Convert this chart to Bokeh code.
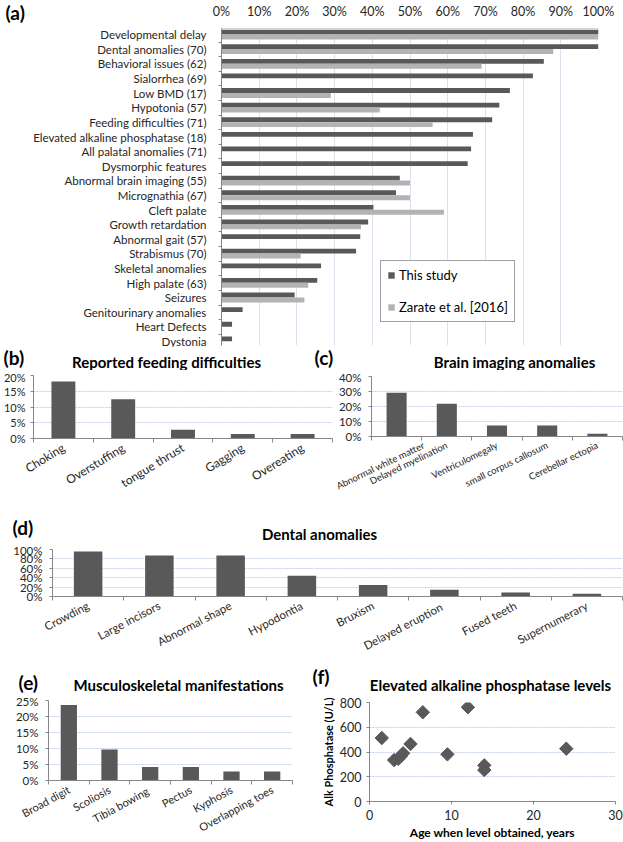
import math
from bokeh.plotting import figure
from bokeh.models import (Range1d, FixedTicker, PrintfTickFormatter, Label, Legend,
                          LegendItem, ColumnDataSource)
from bokeh.layouts import column, row
from bokeh.transform import dodge
from bokeh.embed import file_html
from bokeh.resources import INLINE

FONT = "Lato"
DARK = "#595959"
LIGHT = "#b3b3b3"
AXIS = "#868686"
GRID = "#c3d1ea"
TXT = "#262626"

# ---------------- data ----------------
a_categories = ["Developmental delay", "Dental anomalies (70)", "Behavioral issues (62)",
                "Sialorrhea (69)", "Low BMD (17)", "Hypotonia (57)", "Feeding difficulties (71)",
                "Elevated alkaline phosphatase (18)", "All palatal anomalies (71)",
                "Dysmorphic features", "Abnormal brain imaging (55)", "Micrognathia (67)",
                "Cleft palate", "Growth retardation", "Abnormal gait (57)", "Strabismus (70)",
                "Skeletal anomalies", "High palate (63)", "Seizures", "Genitourinary anomalies",
                "Heart Defects", "Dystonia"]
a_this_study = [100, 100, 85.5, 82.6, 76.5, 73.7, 71.8, 66.7, 66.2, 65.3, 47.3, 46.3,
                40.3, 38.9, 36.8, 35.7, 26.4, 25.4, 19.4, 5.6, 2.8, 2.8]
a_zarate = [100, 88, 69, None, 29, 42, 56, None, None, None, 50, 50,
            59, 37, None, 21, None, 23, 22, None, None, None]
a_ticks = [0, 10, 20, 30, 40, 50, 60, 70, 80, 90, 100]

b_categories = ["Choking", "Overstuffing", "tongue thrust", "Gagging", "Overeating"]
b_values = [18.1, 12.5, 2.8, 1.4, 1.4]
b_ticks = [0, 5, 10, 15, 20]

c_categories = ["Abnormal white matter", "Delayed myelination", "Ventriculomegaly",
                "small corpus callosum", "Cerebellar ectopia"]
c_values = [29.1, 21.8, 7.3, 7.3, 1.8]
c_ticks = [0, 10, 20, 30, 40]

d_categories = ["Crowding", "Large incisors", "Abnormal shape", "Hypodontia", "Bruxism",
                "Delayed  eruption", "Fused teeth", "Supernumerary"]
d_values = [95.7, 87.1, 87.1, 44.3, 24.3, 14.3, 8.6, 5.7]
d_ticks = [0, 20, 40, 60, 80, 100]

e_categories = ["Broad digit", "Scoliosis", "Tibia  bowing", "Pectus", "Kyphosis",
                "Overlapping toes"]
e_values = [23.6, 9.7, 4.2, 4.2, 2.8, 2.8]
e_ticks = [0, 5, 10, 15, 20, 25]

f_age = [1.5, 3.0, 3.5, 3.8, 4.1, 5.0, 6.5, 9.5, 12.0, 14.0, 14.0, 24.0]
f_alp = [513, 335, 345, 365, 390, 465, 721, 381, 762, 292, 254, 427]
f_xticks = [0, 10, 20, 30]
f_yticks = [0, 200, 400, 600, 800]


def base_fig(w, h, left, right, top, bottom, **kw):
    p = figure(width=w, height=h, output_backend="svg", toolbar_location=None,
               min_border_left=left, min_border_right=right, min_border_top=top,
               min_border_bottom=bottom, **kw)
    p.outline_line_color = None
    p.background_fill_color = "white"
    p.border_fill_color = "white"
    p.frame_align = False
    return p


def header(w, h, texts):
    """a strip whose frame fills its canvas; texts = (x, y, text, size, align) in strip pixels"""
    p = figure(width=w, height=h, output_backend="svg", toolbar_location=None,
               x_range=Range1d(0, w), y_range=Range1d(h, 0),
               x_axis_type=None, y_axis_type=None, min_border=0)
    p.outline_line_color = None
    p.grid.grid_line_color = None
    p.frame_align = False
    for (x, y, t, size, align) in texts:
        p.add_layout(Label(x=x, y=y, text=t, text_font=FONT, text_font_size=size,
                           text_font_style="bold", text_align=align,
                           text_baseline="middle", text_color="black"))
    return p


def style_value_axis(ax, ticks, size="11.5px", standoff=7):
    ax.ticker = FixedTicker(ticks=ticks)
    ax.formatter = PrintfTickFormatter(format="%d%%")
    ax.axis_line_color = AXIS
    ax.major_tick_line_color = AXIS
    ax.major_tick_out = 3
    ax.major_tick_in = 0
    ax.minor_tick_line_color = None
    ax.major_label_text_font = FONT
    ax.major_label_text_font_size = size
    ax.major_label_text_color = TXT
    ax.major_label_standoff = standoff


def style_cat_axis(ax, cats, size, angle, standoff=4):
    n = len(cats)
    ax.ticker = FixedTicker(ticks=list(range(n)),
                            minor_ticks=[i - 0.5 for i in range(n + 1)])
    ax.major_label_overrides = {i: c for i, c in enumerate(cats)}
    ax.axis_line_color = AXIS
    ax.major_tick_line_color = None
    ax.major_tick_out = 0
    ax.major_tick_in = 0
    ax.minor_tick_line_color = AXIS
    ax.minor_tick_out = 4
    ax.minor_tick_in = 0
    ax.major_label_text_font = FONT
    ax.major_label_text_font_size = size
    ax.major_label_text_color = TXT
    ax.major_label_orientation = angle
    ax.major_label_standoff = standoff


def column_panel(w, h, left, right, top, bottom, cats, vals, ticks, ymax,
                 lab_size, angle, tick_size="11.5px", tick_standoff=7):
    n = len(cats)
    p = base_fig(w, h, left, right, top, bottom,
                 x_range=Range1d(-0.5, n - 0.5), y_range=Range1d(0, ymax))
    src = ColumnDataSource(dict(pos=list(range(n)), val=vals))
    p.vbar(x="pos", top="val", width=0.4, bottom=0, source=src,
           fill_color=DARK, line_color=None)
    style_value_axis(p.yaxis[0], ticks, tick_size, tick_standoff)
    style_cat_axis(p.xaxis[0], cats, lab_size, angle)
    p.xgrid.grid_line_color = None
    p.ygrid.ticker = FixedTicker(ticks=ticks)
    p.ygrid.grid_line_color = GRID
    p.ygrid.grid_line_dash = "2 1"
    return p


W = 623

# ---------------- (a) ----------------
la = header(30, 30, [(5, 12, "(a)", "19px", "left")])
wa, ha = W - 30, 347
pa = base_fig(wa, ha, 188, 25, 27, 2, x_range=Range1d(0, 100),
              y_range=Range1d(21.27, -0.43), x_axis_location="above")
n_a = len(a_categories)
src_a = ColumnDataSource(dict(pos=list(range(n_a)), val=a_this_study))
zp = [i for i, v in enumerate(a_zarate) if v is not None]
zv = [v for v in a_zarate if v is not None]
src_z = ColumnDataSource(dict(pos=zp, val=zv))
r1 = pa.hbar(y=dodge("pos", -0.185, range=pa.y_range), right="val", left=0, height=0.33,
             source=src_a, fill_color=DARK, line_color=None)
r2 = pa.hbar(y=dodge("pos", 0.15, range=pa.y_range), right="val", left=0, height=0.34,
             source=src_z, fill_color=LIGHT, line_color=None)
xa = pa.xaxis[0]
xa.ticker = FixedTicker(ticks=a_ticks)
xa.formatter = PrintfTickFormatter(format="%d%%")
xa.axis_line_color = "#d0d0d0"
xa.major_tick_out = 0
xa.major_tick_in = 0
xa.minor_tick_line_color = None
xa.major_label_text_font = FONT
xa.major_label_text_font_size = "12.5px"
xa.major_label_text_color = TXT
xa.major_label_standoff = 10
ya = pa.yaxis[0]
ya.ticker = FixedTicker(ticks=list(range(n_a)),
                        minor_ticks=[i - 0.5 for i in range(n_a + 1)])
ya.major_label_overrides = {i: c for i, c in enumerate(a_categories)}
ya.axis_line_color = AXIS
ya.major_tick_out = 0
ya.major_tick_in = 0
ya.minor_tick_line_color = AXIS
ya.minor_tick_out = 3
ya.minor_tick_in = 0
ya.major_label_text_font = FONT
ya.major_label_text_font_size = "11.5px"
ya.major_label_text_color = TXT
ya.major_label_standoff = 12
pa.xgrid.ticker = FixedTicker(ticks=a_ticks)
pa.xgrid.grid_line_color = "#dbe2ee"
pa.ygrid.grid_line_color = None
leg = Legend(items=[LegendItem(label="This study", renderers=[r1]),
                    LegendItem(label="Zarate et al. [2016]", renderers=[r2])],
             location=(159, 23), orientation="vertical")
leg.label_text_font = FONT
leg.label_text_font_size = "13px"
leg.label_text_color = "black"
leg.glyph_width = 8
leg.glyph_height = 8
leg.label_height = 16
leg.spacing = 16
leg.padding = 6
leg.margin = 0
leg.label_standoff = 4
leg.border_line_color = "#404040"
leg.border_line_width = 1
leg.background_fill_color = "white"
leg.background_fill_alpha = 1
pa.add_layout(leg)

# ---------------- (b) & (c) ----------------
h_bc = header(W, 23, [(3, 10, "(b)", "19px", "left"),
                      (166, 14, "Reported feeding difficulties", "15px", "center"),
                      (314, 10, "(c)", "19px", "left"),
                      (514, 14, "Brain imaging anomalies", "15px", "center")])
hbc = 129
wb = 334
pb = column_panel(wb, hbc, 32, 2, 5, 57, b_categories, b_values, b_ticks, 20,
                  "12px", 0.55, "11px", 5)
wc = W - wb
pc = column_panel(wc, hbc, 37, 1, 6, 56, c_categories, c_values, c_ticks, 40,
                  "9.5px", 0.45, "11.5px", 7)

# ---------------- (d) ----------------
h_d = header(W, 44, [(12, 28, "(d)", "19px", "left"),
                     (319, 34, "Dental anomalies", "15px", "center")])
hd = 117
pd_ = column_panel(W, hd, 52, 1, 6, 51, d_categories, d_values, d_ticks, 100,
                   "11.5px", 0.48, "11.5px", 7)

# ---------------- (e) & (f) ----------------
h_ef = header(W, 34, [(18, 22, "(e)", "19px", "left"),
                      (178, 24, "Musculoskeletal manifestations", "15px", "center"),
                      (312, 16, "(f)", "19px", "left"),
                      (490, 24, "Elevated alkaline phosphatase levels", "15px", "center")])
hef = 148
we = 318
pe = column_panel(we, hef, 48, 26, 6, 56, e_categories, e_values, e_ticks, 25,
                  "11px", 0.5, "11.5px", 7)

wf = W - we
pf = base_fig(wf, hef, 48, 8, 8, 35, x_range=Range1d(0, 30), y_range=Range1d(0, 800))
pf.scatter(f_age, f_alp, marker="square", size=9.5, angle=math.pi / 4,
           fill_color=DARK, line_color=DARK)
for ax, ticks in ((pf.xaxis[0], f_xticks), (pf.yaxis[0], f_yticks)):
    ax.ticker = FixedTicker(ticks=ticks)
    ax.axis_line_color = AXIS
    ax.major_tick_line_color = AXIS
    ax.major_tick_out = 3
    ax.major_tick_in = 0
    ax.minor_tick_line_color = None
    ax.major_label_text_font = FONT
    ax.major_label_text_font_size = "12.5px"
    ax.major_label_text_color = TXT
    ax.major_label_standoff = 5
    ax.axis_label_text_font = FONT
    ax.axis_label_text_font_size = "12px"
    ax.axis_label_text_font_style = "bold"
    ax.axis_label_text_color = "black"
    ax.axis_label_standoff = 2
pf.yaxis.axis_label_text_font_size = "11px"
pf.xaxis.axis_label = "Age when level obtained, years"
pf.yaxis.axis_label = "Alk Phosphatase (U/L)"
pf.xgrid.grid_line_color = None
pf.ygrid.ticker = FixedTicker(ticks=f_yticks)
pf.ygrid.grid_line_color = GRID
pf.ygrid.grid_line_dash = "2 1"

layout = column(row(la, pa), h_bc, row(pb, pc), h_d, pd_, h_ef, row(pe, pf))
open("out.html", "w").write(file_html(layout, INLINE))
